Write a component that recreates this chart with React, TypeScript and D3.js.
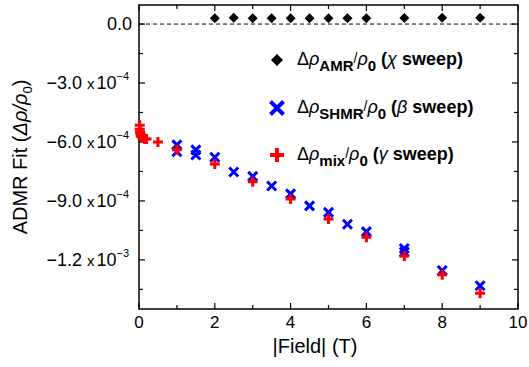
import React from "react";
import * as d3 from "d3";

const amrField = [2, 2.5, 3, 3.5, 4, 4.5, 5, 5.5, 6, 7, 8, 9];
const amrValue = [3e-5, 3.2e-5, 3e-5, 3e-5, 3e-5, 3e-5, 3e-5, 3e-5, 3e-5, 3.1e-5, 3.2e-5, 3.2e-5];

const shmrField = [1, 1, 1.5, 1.5, 2, 2.5, 3, 3.5, 4, 4.5, 5, 5.5, 6, 7, 7, 8, 9];
const shmrValue = [-6.15e-4, -6.5e-4, -6.4e-4, -6.66e-4, -6.78e-4, -7.53e-4, -7.75e-4, -8.24e-4, -8.64e-4, -9.25e-4, -9.58e-4, -1.019e-3, -1.056e-3, -1.142e-3, -1.16e-3, -1.254e-3, -1.332e-3];

const mixField = [0.02, 0.02, 0.03, 0.04, 0.05, 0.07, 0.1, 0.15, 0.2, 0.5, 1, 2, 3, 4, 5, 6, 7, 8, 9];
const mixValue = [-5.15e-4, -5.35e-4, -5.5e-4, -5.6e-4, -5.7e-4, -5.75e-4, -5.8e-4, -5.85e-4, -5.85e-4, -6.0e-4, -6.4e-4, -7.12e-4, -8.02e-4, -8.9e-4, -9.92e-4, -1.085e-3, -1.18e-3, -1.276e-3, -1.37e-3];

const xTicks = [0, 2, 4, 6, 8, 10];
const xMinor = [1, 3, 5, 7, 9];
const yTicks = [0, -3e-4, -6e-4, -9e-4, -1.2e-3];
const yTickMantissa = ["0.0", "\u22123.0", "\u22126.0", "\u22129.0", "\u22121.2"];
const yTickExp = ["", "\u22124", "\u22124", "\u22124", "\u22123"];
const yMinor = [-1.5e-4, -4.5e-4, -7.5e-4, -1.05e-3, -1.35e-3];

const FONT = "Liberation Sans, Arial, sans-serif";

export default function App() {
  const L = 139, R = 518, T = 5, B = 309;
  const x = d3.scaleLinear().domain([0, 10]).range([L, R]);
  const y = d3.scaleLinear().domain([-1.45e-3, 0.97e-4]).range([B, T]);

  const diamond = (cx: number, cy: number, s: number) =>
    `M${cx},${cy - s}L${cx + s},${cy}L${cx},${cy + s}L${cx - s},${cy}Z`;
  const cross = (cx: number, cy: number, s: number) =>
    `M${cx - s},${cy - s}L${cx + s},${cy + s}M${cx - s},${cy + s}L${cx + s},${cy - s}`;
  const plus = (cx: number, cy: number, s: number) =>
    `M${cx - s},${cy}L${cx + s},${cy}M${cx},${cy - s}L${cx},${cy + s}`;

  const legendRows = [
    { y: 60, sub: "AMR", greek: "\u03c7" },
    { y: 108, sub: "SHMR", greek: "\u03b2" },
    { y: 155, sub: "mix", greek: "\u03b3" },
  ];

  return (
    <svg width={529} height={367} style={{ position: "absolute", left: 0, top: 0 }} fontFamily={FONT}>
      <rect width={529} height={367} fill="white" />
      <line x1={L} x2={R} y1={y(0)} y2={y(0)} stroke="black" strokeWidth={1} strokeDasharray="4,3" />
      <rect x={L} y={T} width={R - L} height={B - T} fill="none" stroke="black" strokeWidth={1.5} />
      {xTicks.concat(xMinor).map((t, i) => {
        const len = i < xTicks.length ? 6 : 4;
        return (
          <g key={"xt" + i}>
            <line x1={x(t)} x2={x(t)} y1={B} y2={B - len} stroke="black" strokeWidth={1.2} />
            <line x1={x(t)} x2={x(t)} y1={T} y2={T + len} stroke="black" strokeWidth={1.2} />
          </g>
        );
      })}
      {xTicks.map((t) => (
        <text key={"xl" + t} x={x(t)} y={328} textAnchor="middle" fontSize={17}>
          {t}
        </text>
      ))}
      {yTicks.concat(yMinor).map((t, i) => {
        const len = i < yTicks.length ? 6 : 4;
        return (
          <g key={"yt" + i}>
            <line x1={L} x2={L + len} y1={y(t)} y2={y(t)} stroke="black" strokeWidth={1.2} />
            <line x1={R} x2={R - len} y1={y(t)} y2={y(t)} stroke="black" strokeWidth={1.2} />
          </g>
        );
      })}
      {yTicks.map((t, i) =>
        yTickExp[i] === "" ? (
          <text key={"yl" + i} x={132} y={y(t) + 6} textAnchor="end" fontSize={18}>
            {yTickMantissa[i]}
          </text>
        ) : (
          <text key={"yl" + i} x={129} y={y(t) + 6} textAnchor="end" fontSize={18}>
            <tspan>{yTickMantissa[i]}</tspan>
            <tspan fontSize={15} dx={5}>x</tspan>
            <tspan dx={2}>10</tspan>
            <tspan fontSize={11} dy={-9}>{yTickExp[i]}</tspan>
          </text>
        )
      )}
      <text x={315} y={353} textAnchor="middle" fontSize={20}>|Field| (T)</text>
      <text transform={`translate(27,${(T + B) / 2}) rotate(-90)`} textAnchor="middle" fontSize={20}>
        <tspan>ADMR Fit (</tspan>
        <tspan fontStyle="italic">{"\u0394\u03c1/\u03c1"}</tspan>
        <tspan fontSize={13} dy={5}>0</tspan>
        <tspan dy={-5}>)</tspan>
      </text>
      {amrField.map((f, i) => (
        <path key={"a" + i} d={diamond(x(f), y(amrValue[i]), 5)} fill="black" />
      ))}
      {shmrField.map((f, i) => (
        <path key={"s" + i} d={cross(x(f), y(shmrValue[i]), 4.5)} stroke="#0000ff" strokeWidth={3} fill="none" />
      ))}
      {mixField.map((f, i) => (
        <path key={"m" + i} d={plus(x(f), y(mixValue[i]), 5)} stroke="#ff0000" strokeWidth={3} fill="none" />
      ))}
      <path d={diamond(277, 60, 6)} fill="black" />
      <path d={cross(277, 108, 6.5)} stroke="#0000ff" strokeWidth={4} fill="none" />
      <path d={plus(277, 155, 7)} stroke="#ff0000" strokeWidth={4} fill="none" />
      {legendRows.map((r) => (
        <text key={r.sub} x={297} y={r.y + 5} fontSize={18} fontWeight="bold">
          <tspan fontWeight="normal">{"\u0394"}</tspan>
          <tspan fontWeight="normal" fontStyle="italic">{"\u03c1"}</tspan>
          <tspan fontSize={15} dy={6}>{r.sub}</tspan>
          <tspan fontSize={14} fontWeight="normal" dy={-8}>/</tspan>
          <tspan fontWeight="normal" fontStyle="italic" dy={2}>{"\u03c1"}</tspan>
          <tspan fontSize={15} dy={6}>0</tspan>
          <tspan dy={-6}>{" ("}</tspan>
          <tspan fontWeight="normal" fontStyle="italic">{r.greek}</tspan>
          <tspan>{" sweep)"}</tspan>
        </text>
      ))}
    </svg>
  );
}
